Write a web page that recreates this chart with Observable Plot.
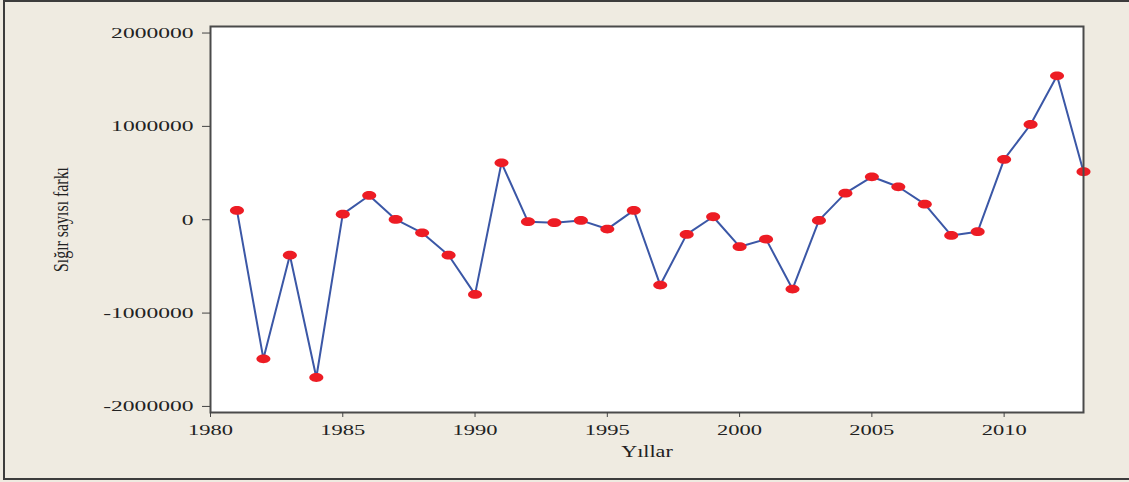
<!DOCTYPE html>
<html>
<head>
<meta charset="utf-8">
<script src="https://cdn.jsdelivr.net/npm/d3@7"></script>
<script src="https://cdn.jsdelivr.net/npm/@observablehq/plot@0.6"></script>
<style>
  body { margin: 0; background: #ffffff; }
  #wrap { position: relative; width: 1129px; height: 482px; background: #efebe1; overflow: hidden; }
  #border { position: absolute; left: 3px; top: 0px; width: 1200px; height: 480px; border: 2px solid #3c3c3c; box-sizing: border-box; pointer-events: none; }
  #chart { position: absolute; left: 0; top: 0; }
</style>
</head>
<body>
<div id="wrap"><div id="chart"></div><div id="border"></div></div>
<script>
const years = [1981, 1982, 1983, 1984, 1985, 1986, 1987, 1988, 1989, 1990,
  1991, 1992, 1993, 1994, 1995, 1996, 1997, 1998, 1999, 2000,
  2001, 2002, 2003, 2004, 2005, 2006, 2007, 2008, 2009, 2010,
  2011, 2012, 2013];
const values = [100000, -1490000, -380000, -1690000, 60000, 260000, 3000, -140000, -380000, -800000,
  610000, -21000, -32000, -7000, -100000, 100000, -700000, -157000, 32000, -289000,
  -208000, -743000, -7000, 285000, 460000, 353000, 167000, -168000, -128000, 646000,
  1020000, 1542000, 514000];
const xTicks = [1980, 1985, 1990, 1995, 2000, 2005, 2010];
const yTicks = [-2000000, -1000000, 0, 1000000, 2000000];
const xLabel = "Yıllar";
const yLabel = "Sığır sayısı farkı";

const data = years.map((year, i) => ({year, value: values[i]}));

// ellipse-shaped symbol for the markers
const ellipse = {
  draw(ctx) {
    const rx = 7, ry = 4.4, k = 0.5523;
    ctx.moveTo(rx, 0);
    ctx.bezierCurveTo(rx, ry * k, rx * k, ry, 0, ry);
    ctx.bezierCurveTo(-rx * k, ry, -rx, ry * k, -rx, 0);
    ctx.bezierCurveTo(-rx, -ry * k, -rx * k, -ry, 0, -ry);
    ctx.bezierCurveTo(rx * k, -ry, rx, -ry * k, rx, 0);
    ctx.closePath();
  }
};

const fmt = d => String(d);

const chart = Plot.plot({
  width: 1129,
  height: 482,
  marginLeft: 210,
  marginRight: 46,
  marginTop: 26,
  marginBottom: 70,
  style: {background: "transparent", fontFamily: "'Liberation Serif', 'Times New Roman', serif", fontSize: "15px", color: "#222"},
  x: {domain: [1980, 2013]},
  y: {domain: [-2065000, 2070000]},
  marks: [
    Plot.frame({fill: "white", stroke: null}),
    Plot.line(data, {x: "year", y: "value", stroke: "#3b57a6", strokeWidth: 2}),
    Plot.dot(data, {x: "year", y: "value", symbol: ellipse, fill: "#ed1c24", stroke: null}),
    Plot.frame({stroke: "#4a4a4a", strokeWidth: 2}),
    Plot.axisX({ticks: xTicks, tickFormat: fmt, tickSize: 5, tickPadding: 7, stroke: "#444",
      label: xLabel, labelAnchor: "center", labelArrow: "none", labelOffset: 44, fontSize: 15}),
    Plot.axisY({ticks: yTicks, tickFormat: fmt, tickSize: 8, tickPadding: 9, stroke: "#444",
      label: yLabel, labelAnchor: "center", labelArrow: "none", labelOffset: 157, fontSize: 15})
  ]
});

document.getElementById("chart").appendChild(chart);

// widen the tick labels like the stretched reference typography
function stretch(sel, factor) {
  chart.querySelectorAll(sel).forEach(t => {
    const w = t.getComputedTextLength();
    if (w > 0) {
      t.setAttribute("textLength", (w * factor).toFixed(1));
      t.setAttribute("lengthAdjust", "spacingAndGlyphs");
    }
  });
}
stretch('g[aria-label="x-axis tick label"] text', 1.5);
stretch('g[aria-label="y-axis tick label"] text', 1.57);
chart.querySelectorAll('g[aria-label="x-axis label"] text').forEach(t => { t.style.fontSize = "16px"; });
chart.querySelectorAll('g[aria-label="y-axis label"] text').forEach(t => { t.style.fontSize = "20px"; });
stretch('g[aria-label="x-axis label"] text', 1.38);
chart.querySelectorAll('g[aria-label="y-axis label"] text').forEach(t => {
  t.setAttribute("textLength", "105");
  t.setAttribute("lengthAdjust", "spacingAndGlyphs");
});
</script>
</body>
</html>
